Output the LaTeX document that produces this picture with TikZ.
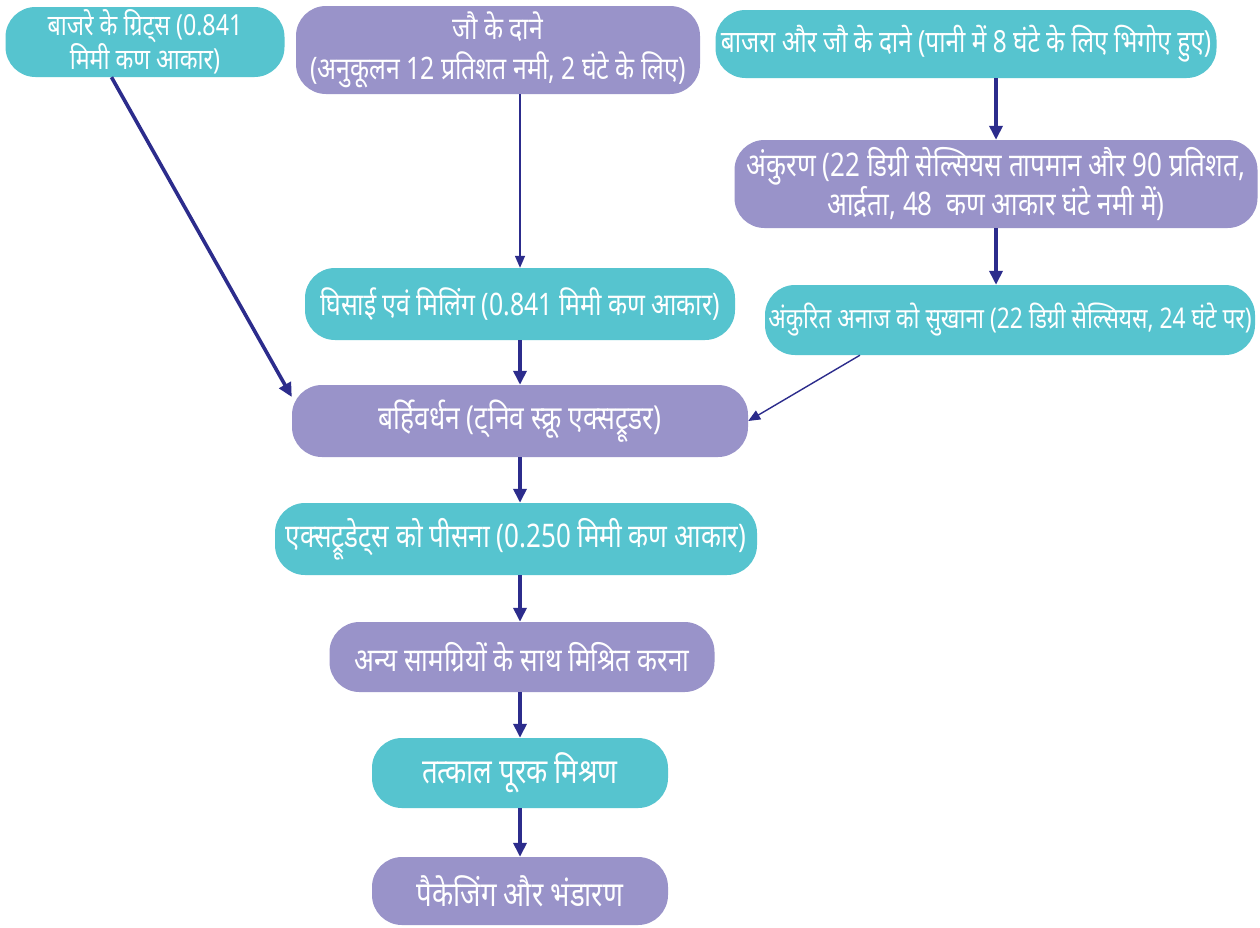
\documentclass[tikz,border=0pt]{standalone}
\usepackage{fontspec}
\usetikzlibrary{arrows.meta,calc}
\newfontfamily\hindi[Script=Devanagari,FakeStretch=0.8]{Noto Sans}
\newcommand{\hindiat}[2]{\hindi\fontsize{#1}{#2}\selectfont}
\definecolor{tealbox}{RGB}{86,196,207}
\definecolor{lilacbox}{RGB}{153,147,201}
\definecolor{flowline}{RGB}{44,44,140}
\tikzset{
  stage/.style={rectangle, rounded corners=30pt, inner sep=0pt, text=white,
    align=center, font=\hindiat{32}{36}},
  tealstage/.style={stage, fill=tealbox},
  lilacstage/.style={stage, fill=lilacbox},
  flow/.style={draw=flowline, line width=3.6pt, -{Triangle[length=14pt,width=13pt]}},
  thinflow/.style={draw=flowline, line width=1.4pt, -{Triangle[length=12pt,width=10pt]}}
}
\begin{document}
\begin{tikzpicture}[x=1pt,y=-1pt]
\useasboundingbox (0,0) rectangle (1260,927);
\fill[white] (0,0) rectangle (1260,927);

% input streams
\node[tealstage, minimum width=279pt, minimum height=70pt, font=\hindiat{29}{33}] (grits) at (145,42)
  {बाजरे के ग्रिट्स (0.841\\मिमी कण आकार)};
\node[lilacstage, minimum width=404pt, minimum height=88pt, font=\hindiat{31}{40}] (barley) at (498,50)
  {जौ के दाने\\(अनुकूलन 12 प्रतिशत नमी, 2 घंटे के लिए)};
\node[tealstage, minimum width=501pt, minimum height=68pt, font=\hindiat{30.5}{34}] (soak) at (966,44)
  {बाजरा और जौ के दाने (पानी में 8 घंटे के लिए भिगोए हुए)};

% malting branch
\node[lilacstage, minimum width=523pt, minimum height=88pt, font=\hindiat{32.5}{37}] (sprout) at (996,184)
  {अंकुरण (22 डिग्री सेल्सियस तापमान और 90 प्रतिशत,\\आर्द्रता, 48\ \ कण आकार घंटे नमी में)};
\node[tealstage, minimum width=490pt, minimum height=70pt, font=\hindiat{28.5}{34}] (dry) at (1010,320)
  {अंकुरित अनाज को सुखाना (22 डिग्री सेल्सियस, 24 घंटे पर)};

% main line
\node[tealstage, minimum width=430pt, minimum height=72pt, font=\hindiat{31}{36}] (mill) at (520,304)
  {घिसाई एवं मिलिंग (0.841 मिमी कण आकार)};
\node[lilacstage, minimum width=456pt, minimum height=72pt, font=\hindiat{33}{36}] (extrude) at (520,421)
  {बर्हिवर्धन (ट्निव स्क्रू एक्सट्रूडर)};
\node[tealstage, minimum width=482pt, minimum height=72pt, font=\hindiat{32.5}{36}] (grind) at (516,539)
  {एक्सट्रूडेट्स को पीसना (0.250 मिमी कण आकार)};
\node[lilacstage, minimum width=385pt, minimum height=70pt, font=\hindiat{32.5}{36}] (blend) at (522,657)
  {अन्य सामग्रियों के साथ मिश्रित करना};
\node[tealstage, minimum width=296pt, minimum height=70pt, font=\hindiat{34.5}{38}] (mix) at (520,773)
  {तत्काल पूरक मिश्रण};
\node[lilacstage, minimum width=296pt, minimum height=68pt, font=\hindiat{34.5}{38}] (pack) at (520,891)
  {पैकेजिंग और भंडारण};

% connectors
\draw[flow] ($(grits.south west)!0.38!(grits.south east)$) -- (extrude.174);
\draw[thinflow] (mill.north |- barley.south) -- (mill.north);
\draw[flow] (sprout.north |- soak.south) -- (sprout.north);
\draw[flow] (sprout.south) -- (sprout.south |- dry.north);
\draw[thinflow] ($(dry.south west)!0.194!(dry.south east)$) -- (extrude.east);
\draw[flow] (mill.south) -- (extrude.north);
\draw[flow] (extrude.south) -- (extrude.south |- grind.north);
\draw[flow] (extrude.south |- grind.south) -- (extrude.south |- blend.north);
\draw[flow] (mix.north |- blend.south) -- (mix.north);
\draw[flow] (mix.south) -- (pack.north);
\end{tikzpicture}
\end{document}
